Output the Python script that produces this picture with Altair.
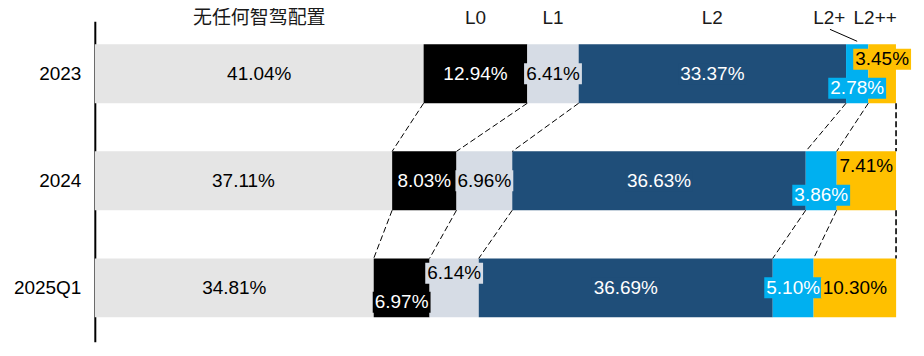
import altair as alt
import pandas as pd

years = ["2023", "2024", "2025Q1"]
levels = ["无任何智驾配置", "L0", "L1", "L2", "L2+", "L2++"]
share_2023 = [41.04, 12.94, 6.41, 33.37, 2.78, 3.45]
share_2024 = [37.11, 8.03, 6.96, 36.63, 3.86, 7.41]
share_2025q1 = [34.81, 6.97, 6.14, 36.69, 5.10, 10.30]
shares = [share_2023, share_2024, share_2025q1]

# label placement inside a bar: -1 above centre, 0 centre, +1 below centre
place_2023 = [0, 0, 0, 0, 1, -1]
place_2024 = [0, 0, 0, 0, 1, -1]
place_2025q1 = [0, 1, -1, 0, 0, 0]
places = [place_2023, place_2024, place_2025q1]

seg_colors = ["#e5e5e5", "#000000", "#d6dce5", "#1f4e79", "#00b0f0", "#ffc000"]
text_colors = ["#000000", "#ffffff", "#000000", "#ffffff", "#ffffff", "#000000"]
header_shift_px = [0, 0, 0, 0, -28, -7]

W, H = 803, 321
PX_PER_PCT = W / 100.0
Y_DOMAIN = [-0.49, 2.503]
PX_PER_ROW = H / (Y_DOMAIN[1] - Y_DOMAIN[0])
HALF = 0.275
SHIFT = 14.5 / PX_PER_ROW
FONT = "Liberation Sans, Arial, Noto Sans CJK SC"

rows = []
ends = []
for i, (yr, vals) in enumerate(zip(years, shares)):
    start = 0.0
    e = []
    for k, (lv, v) in enumerate(zip(levels, vals)):
        end = start + v
        label = f"{v:.2f}%"
        a = 2.76 if len(label) <= 5 else 3.24
        rows.append(dict(
            year=yr, idx=i, level=lv, value=v, start=start, end=end,
            mid=(start + end) / 2, y0=i - HALF, y1=i + HALF,
            ly=i + places[i][k] * SHIFT, label=label,
            tcolor=text_colors[k], bcolor=seg_colors[k],
            shape=f"M-{a},-1L{a},-1L{a},1L-{a},1Z",
            hx=(start + end) / 2 + header_shift_px[k] / PX_PER_PCT,
        ))
        start = end
        e.append(end)
    ends.append(e)
df = pd.DataFrame(rows)

conn = []
for i in range(len(years) - 1):
    for k in range(len(levels)):
        last = k == len(levels) - 1
        xa = 100.0 if last else ends[i][k]
        xb = 100.0 if last else ends[i + 1][k]
        conn.append(dict(xa=xa, xb=xb, ya=i + HALF, yb=i + 1 - HALF,
                         sw=1.6 if last else 1.0))
cdf = pd.DataFrame(conn)

xs = alt.Scale(domain=[0, 100], nice=False, zero=False)
ys = alt.Scale(domain=Y_DOMAIN, nice=False, zero=False, reverse=True)
label_expr = "[" + ",".join(f"'{y}'" for y in years) + "][datum.value]"

base = alt.Chart(df)

bars = base.mark_rect().encode(
    x=alt.X("start:Q", scale=xs, axis=None),
    x2="end:Q",
    y=alt.Y("y0:Q", scale=ys, axis=alt.Axis(
        title=None, values=[0, 1, 2], labelExpr=label_expr, ticks=False, grid=False,
        domainColor="#000000", domainWidth=2, labelFontSize=19, labelColor="#000000",
        labelFont=FONT, labelPadding=14)),
    y2="y1:Q",
    color=alt.Color("bcolor:N", scale=None),
)

connectors = alt.Chart(cdf).mark_rule(
    color="#000000", strokeDash=[6, 3]
).encode(
    x=alt.X("xa:Q", scale=xs), x2="xb:Q",
    y=alt.Y("ya:Q", scale=ys), y2="yb:Q",
    strokeWidth=alt.StrokeWidth("sw:Q", scale=None),
)

boxes = base.mark_point(filled=True, opacity=1, size=441, strokeWidth=0).encode(
    x=alt.X("mid:Q", scale=xs),
    y=alt.Y("ly:Q", scale=ys),
    shape=alt.Shape("shape:N", scale=None),
    fill=alt.Fill("bcolor:N", scale=None),
)

labels = base.mark_text(fontSize=19, font=FONT, baseline="middle", align="center").encode(
    x=alt.X("mid:Q", scale=xs),
    y=alt.Y("ly:Q", scale=ys),
    text="label:N",
    color=alt.Color("tcolor:N", scale=None),
)

header = base.transform_filter(alt.datum.idx == 0).mark_text(
    fontSize=19, font=FONT, baseline="middle", align="center", color="#1a1a1a"
).encode(
    x=alt.X("hx:Q", scale=xs),
    y=alt.value(-3),
    text="level:N",
)

leader = base.transform_filter(
    (alt.datum.idx == 0) & (alt.datum.level == "L2+")
).transform_calculate(
    lx=alt.datum.mid - 3.4
).mark_rule(color="#000000", strokeWidth=1).encode(
    x=alt.X("lx:Q", scale=xs), x2="mid:Q",
    y=alt.value(8), y2=alt.value(20),
)

chart = alt.layer(bars, connectors, boxes, labels, header, leader).properties(
    width=W, height=H,
    autosize=alt.AutoSizeParams(type="none"),
    padding={"left": 87, "top": 13, "right": 20, "bottom": 10},
).configure_view(stroke=None)

chart.save("out.html", embed_options={"renderer": "svg", "actions": False})
